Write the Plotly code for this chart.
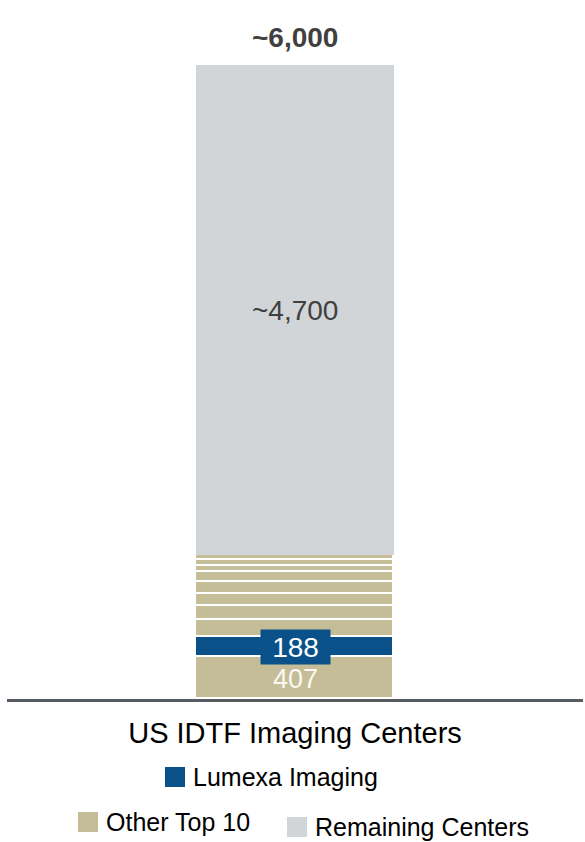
import plotly.graph_objects as go

# ---- data ----
categories = ["US IDTF Imaging Centers"]
segment_names = ["Other Top 10", "Lumexa Imaging", "Other Top 10", "Other Top 10", "Other Top 10",
                 "Other Top 10", "Other Top 10", "Other Top 10", "Other Top 10", "Other Top 10",
                 "Remaining Centers"]
segment_values = [407, 188, 167, 126, 120, 113, 96, 57, 55, 51, 4700]
total_label = "~6,000"
remaining_label = "~4,700"
legend_items = ["Lumexa Imaging", "Other Top 10", "Remaining Centers"]

# ---- style ----
COLORS = {"Other Top 10": "#C4BD97", "Lumexa Imaging": "#0A5189", "Remaining Centers": "#D1D5D8"}
FONT = "Arial, 'Liberation Sans', sans-serif"
W, H = 585, 842
ML, MR, MT, MB = 7, 2, 65, 143
PW, PH = W - ML - MR, H - MT - MB


def px(xp):
    return (xp - ML) / PW


def py(yp):
    return (H - MB - yp) / PH


total = sum(segment_values)
fig = go.Figure()
for name, val in zip(segment_names, segment_values):
    is_rem = name == "Remaining Centers"
    fig.add_trace(go.Bar(
        x=categories, y=[val], name=name, showlegend=False,
        marker=dict(color=COLORS[name],
                    line=dict(color="white", width=0 if is_rem else 1.6)),
        width=0.344, hoverinfo="skip",
    ))

annotations = []
bases = []
acc = 0
for v in segment_values:
    bases.append(acc)
    acc += v

# 407 label
annotations.append(dict(x=categories[0], y=bases[0] + segment_values[0] / 2, xref="x", yref="y",
                        text=str(segment_values[0]), showarrow=False,
                        font=dict(family=FONT, size=27, color="#FAF8F0"), yshift=-1))
# 188 label in box
annotations.append(dict(x=categories[0], y=bases[1] + segment_values[1] / 2, xref="x", yref="y",
                        text=str(segment_values[1]), showarrow=False,
                        font=dict(family=FONT, size=28, color="white"),
                        bgcolor=COLORS["Lumexa Imaging"], width=65, height=30, borderpad=2))
# remaining label
annotations.append(dict(x=categories[0], y=bases[-1] + segment_values[-1] / 2, xref="x", yref="y",
                        text=remaining_label, showarrow=False,
                        font=dict(family=FONT, size=28, color="#404040")))
# total label
annotations.append(dict(x=categories[0], y=total, xref="x", yref="y", yanchor="bottom",
                        text="<b>" + total_label + "</b>", showarrow=False, yshift=10,
                        font=dict(family=FONT, size=28, color="#404040")))

# custom legend
legend_pos = {
    "Lumexa Imaging": (165, 767),
    "Other Top 10": (78, 812),
    "Remaining Centers": (287, 817),
}
shapes = []
for name in legend_items:
    x0, y0 = legend_pos[name]
    shapes.append(dict(type="rect", xref="paper", yref="paper",
                       x0=px(x0), x1=px(x0 + 20), y0=py(y0 + 20), y1=py(y0),
                       fillcolor=COLORS[name], line=dict(width=0)))
    annotations.append(dict(x=px(x0 + 26), y=py(y0 + 10), xref="paper", yref="paper",
                            xanchor="left", yanchor="middle", text=name, showarrow=False,
                            font=dict(family=FONT, size=25, color="black")))

fig.update_layout(
    width=W, height=H, barmode="stack",
    margin=dict(l=ML, r=MR, t=MT, b=MB),
    paper_bgcolor="white", plot_bgcolor="white",
    xaxis=dict(type="category", range=[-0.5, 0.5], showline=True, linecolor="#565B61",
               linewidth=2.5, showgrid=False, ticks="", ticklabelstandoff=6,
               tickfont=dict(family=FONT, size=29, color="black"), fixedrange=True),
    yaxis=dict(range=[0, total], visible=False, showgrid=False, fixedrange=True),
    annotations=annotations, shapes=shapes, showlegend=False,
    bargap=0,
)

fig.write_html("out.html")
